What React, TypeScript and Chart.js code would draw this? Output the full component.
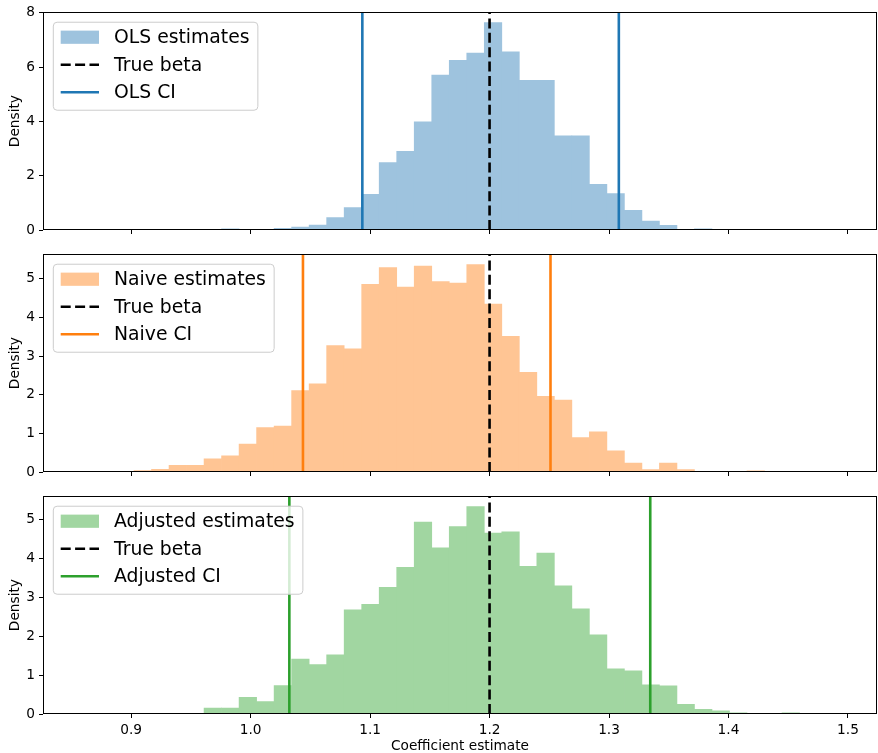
import React, { useEffect, useRef } from 'react';
import { Chart, registerables } from 'chart.js';

Chart.register(...registerables);

// ---------------- data ----------------
const binEdges = [
  0.8584, 0.87306, 0.88772, 0.90238, 0.91704, 0.9317, 0.94636, 0.96102, 0.97568, 0.99034,
  1.005, 1.01966, 1.03432, 1.04898, 1.06364, 1.0783, 1.09296, 1.10762, 1.12228, 1.13694,
  1.1516, 1.16626, 1.18092, 1.19558, 1.21024, 1.2249, 1.23956, 1.25422, 1.26888, 1.28354,
  1.2982, 1.31286, 1.32752, 1.34218, 1.35684, 1.3715, 1.38616, 1.40082, 1.41548, 1.43014,
  1.4448, 1.45946, 1.47412, 1.48878,
];

const olsDensity = [
  0, 0, 0, 0, 0, 0, 0, 0, 0.04, 0,
  0, 0.06, 0.11, 0.18, 0.46, 0.83, 1.31, 2.48, 2.9, 3.98,
  5.71, 6.25, 6.52, 7.64, 6.56, 5.51, 5.51, 3.47, 3.47, 1.68,
  1.34, 0.72, 0.33, 0.17, 0, 0.04, 0.02, 0, 0, 0,
  0, 0, 0,
];

const naiveDensity = [
  0, 0, 0, 0.04, 0.07, 0.17, 0.17, 0.34, 0.42, 0.72,
  1.15, 1.19, 2.11, 2.28, 3.27, 3.19, 4.86, 5.29, 4.79, 5.33,
  4.93, 4.89, 5.37, 4.35, 3.51, 2.58, 1.96, 1.86, 0.89, 1.04,
  0.55, 0.23, 0.06, 0.23, 0.06, 0, 0, 0, 0.03, 0,
  0, 0, 0,
];

const adjustedDensity = [
  0, 0, 0, 0, 0.02, 0, 0.02, 0.15, 0.15, 0.43,
  0.32, 0.73, 1.41, 1.27, 1.52, 2.67, 2.81, 3.25, 3.76, 4.92,
  4.26, 4.81, 5.32, 4.64, 4.67, 3.79, 4.13, 3.29, 2.7, 2.03,
  1.16, 1.11, 0.75, 0.72, 0.25, 0.12, 0.08, 0.03, 0, 0.01,
  0.03, 0, 0,
];

const trueBeta = 1.2;
const olsCI = [1.0935, 1.3082];
const naiveCI = [1.0438, 1.251];
const adjustedCI = [1.0324, 1.3345];

const xTicks = [0.9, 1.0, 1.1, 1.2, 1.3, 1.4, 1.5];
const olsYTicks = [0, 2, 4, 6, 8];
const naiveYTicks = [0, 1, 2, 3, 4, 5];
const adjustedYTicks = [0, 1, 2, 3, 4, 5];

const X_MIN = 0.8262;
const X_MAX = 1.5243;

// ---------------- styling ----------------
const FONT = 'DejaVu Sans';
const TICK_SIZE = 13.7;
const LEGEND_SIZE = 18.8;

Chart.defaults.font.family = FONT;
Chart.defaults.color = '#000';

const framePlugin = {
  id: 'mplFrame',
  afterDraw(chart: any) {
    const { ctx, chartArea } = chart;
    const l = Math.round(chartArea.left) + 0.5;
    const t = Math.round(chartArea.top) + 0.5;
    const r = Math.round(chartArea.right) - 0.5;
    const b = Math.round(chartArea.bottom) - 0.5;
    ctx.save();
    ctx.strokeStyle = '#000';
    ctx.lineWidth = 1;
    ctx.strokeRect(l, t, r - l, b - t);
    ctx.restore();
  },
};

const legendPlugin = {
  id: 'mplLegend',
  afterDraw(chart: any) {
    const { ctx, chartArea } = chart;
    const items = chart.data.datasets.filter((d: any) => d.label);
    ctx.save();
    ctx.font = `${LEGEND_SIZE}px "${FONT}"`;
    const textW = Math.max(...items.map((d: any) => ctx.measureText(d.label).width));
    const x0 = chartArea.left + 10.3;
    const y0 = chartArea.top + 10;
    const textOff = 60.7;
    const w = textOff + textW + 8.3;
    const h = 88;
    const rad = 3.8;
    ctx.beginPath();
    ctx.moveTo(x0 + rad, y0);
    ctx.lineTo(x0 + w - rad, y0);
    ctx.arcTo(x0 + w, y0, x0 + w, y0 + rad, rad);
    ctx.lineTo(x0 + w, y0 + h - rad);
    ctx.arcTo(x0 + w, y0 + h, x0 + w - rad, y0 + h, rad);
    ctx.lineTo(x0 + rad, y0 + h);
    ctx.arcTo(x0, y0 + h, x0, y0 + h - rad, rad);
    ctx.lineTo(x0, y0 + rad);
    ctx.arcTo(x0, y0, x0 + rad, y0, rad);
    ctx.closePath();
    ctx.fillStyle = 'rgba(255,255,255,0.8)';
    ctx.fill();
    ctx.strokeStyle = '#cccccc';
    ctx.lineWidth = 1;
    ctx.stroke();

    items.forEach((d: any, i: number) => {
      const cy = y0 + 15 + i * 27.5;
      const hx = x0 + 7.4;
      const hw = 38.3;
      if (d.type === 'bar') {
        ctx.fillStyle = d.backgroundColor;
        ctx.fillRect(hx, cy - 6.6, hw, 13.2);
      } else {
        ctx.beginPath();
        ctx.setLineDash(d.borderDash || []);
        ctx.strokeStyle = d.borderColor;
        ctx.lineWidth = d.borderWidth;
        ctx.lineCap = 'butt';
        ctx.moveTo(hx, cy);
        ctx.lineTo(hx + hw, cy);
        ctx.stroke();
        ctx.setLineDash([]);
      }
      ctx.fillStyle = '#000';
      ctx.textAlign = 'left';
      ctx.textBaseline = 'middle';
      ctx.fillText(d.label, x0 + textOff, cy + 1);
    });
    ctx.restore();
  },
};

type PanelProps = {
  top: number;
  height: number;
  xAxisH: number;
  density: number[];
  fill: string;
  line: string;
  histLabel: string;
  ciLabel: string;
  ci: number[];
  yTicks: number[];
  showXLabels: boolean;
};

function Panel(p: PanelProps) {
  const ref = useRef<HTMLCanvasElement | null>(null);

  useEffect(() => {
    if (!ref.current) return;
    const centers = binEdges.slice(0, -1).map((e, i) => (e + binEdges[i + 1]) / 2);
    const yMax = Math.max(...p.density) * 1.05;
    const vline = (x: number) => [
      { x, y: 0 },
      { x, y: yMax },
    ];
    const tickFont = { family: FONT, size: TICK_SIZE };

    const chart = new Chart(ref.current, {
      type: 'bar',
      data: {
        datasets: [
          {
            type: 'bar',
            label: p.histLabel,
            data: centers.map((c, i) => ({ x: c, y: p.density[i] })),
            backgroundColor: p.fill,
            borderWidth: 0,
            barPercentage: 1,
            categoryPercentage: 1,
            order: 3,
          } as any,
          {
            type: 'line',
            label: 'True beta',
            data: vline(trueBeta),
            borderColor: '#000',
            borderWidth: 2.6,
            borderDash: [10, 4.4],
            pointRadius: 0,
            order: 2,
          } as any,
          {
            type: 'line',
            label: p.ciLabel,
            data: vline(p.ci[0]),
            borderColor: p.line,
            borderWidth: 2.6,
            pointRadius: 0,
            order: 1,
          } as any,
          {
            type: 'line',
            label: '',
            data: vline(p.ci[1]),
            borderColor: p.line,
            borderWidth: 2.6,
            pointRadius: 0,
            order: 1,
          } as any,
        ],
      },
      options: {
        animation: false,
        responsive: false,
        maintainAspectRatio: false,
        devicePixelRatio: 1,
        layout: { padding: { top: 10, right: 1, left: 0, bottom: 0 } },
        plugins: {
          legend: { display: false },
          tooltip: { enabled: false },
        },
        scales: {
          x: {
            type: 'linear',
            min: X_MIN,
            max: X_MAX,
            bounds: 'data',
            offset: false,
            grid: {
              offset: false,
              drawOnChartArea: false,
              drawTicks: true,
              tickLength: 4,
              color: '#000',
              lineWidth: 1,
            },
            border: { display: false },
            ticks: {
              display: p.showXLabels,
              padding: 4,
              font: tickFont,
              color: '#000',
              maxRotation: 0,
              autoSkip: false,
              callback: (v: any) => Number(v).toFixed(1),
            },
            afterBuildTicks: (s: any) => {
              s.ticks = xTicks.map((v) => ({ value: v }));
            },
            afterFit: (s: any) => {
              s.height = p.xAxisH;
            },
            title: {
              display: p.showXLabels,
              text: 'Coefficient estimate',
              font: { family: FONT, size: TICK_SIZE, lineHeight: 1 },
              color: '#000',
              padding: { top: 0, bottom: 0 },
            },
          },
          y: {
            type: 'linear',
            min: 0,
            max: yMax,
            bounds: 'data',
            grid: {
              offset: false,
              drawOnChartArea: false,
              drawTicks: true,
              tickLength: 4,
              color: '#000',
              lineWidth: 1,
            },
            border: { display: false },
            ticks: {
              padding: 4,
              font: tickFont,
              color: '#000',
              autoSkip: false,
              callback: (v: any) => String(v),
            },
            afterBuildTicks: (s: any) => {
              s.ticks = p.yTicks.map((v) => ({ value: v }));
            },
            afterFit: (s: any) => {
              s.width = 43;
            },
            title: {
              display: true,
              text: 'Density',
              font: tickFont,
              color: '#000',
              padding: { top: 7, bottom: 0 },
            },
          },
        },
      } as any,
      plugins: [framePlugin, legendPlugin],
    });
    return () => chart.destroy();
  }, []);

  return (
    <canvas
      ref={ref}
      width={878}
      height={p.height}
      style={{ position: 'absolute', left: 0, top: p.top, width: 878, height: p.height, display: 'block' }}
    />
  );
}

export default function App() {
  return (
    <div style={{ position: 'absolute', left: 0, top: 0, width: 878, height: 753, background: '#fff', overflow: 'hidden' }}>
      <Panel
        top={0}
        height={250}
        xAxisH={20}
        density={olsDensity}
        fill="rgb(158,195,222)"
        line="#1f77b4"
        histLabel="OLS estimates"
        ciLabel="OLS CI"
        ci={olsCI}
        yTicks={olsYTicks}
        showXLabels={false}
      />
      <Panel
        top={242}
        height={250}
        xAxisH={20}
        density={naiveDensity}
        fill="rgb(255,197,148)"
        line="#ff7f0e"
        histLabel="Naive estimates"
        ciLabel="Naive CI"
        ci={naiveCI}
        yTicks={naiveYTicks}
        showXLabels={false}
      />
      <Panel
        top={484}
        height={269}
        xAxisH={39}
        density={adjustedDensity}
        fill="rgb(161,214,161)"
        line="#2ca02c"
        histLabel="Adjusted estimates"
        ciLabel="Adjusted CI"
        ci={adjustedCI}
        yTicks={adjustedYTicks}
        showXLabels={true}
      />
    </div>
  );
}
